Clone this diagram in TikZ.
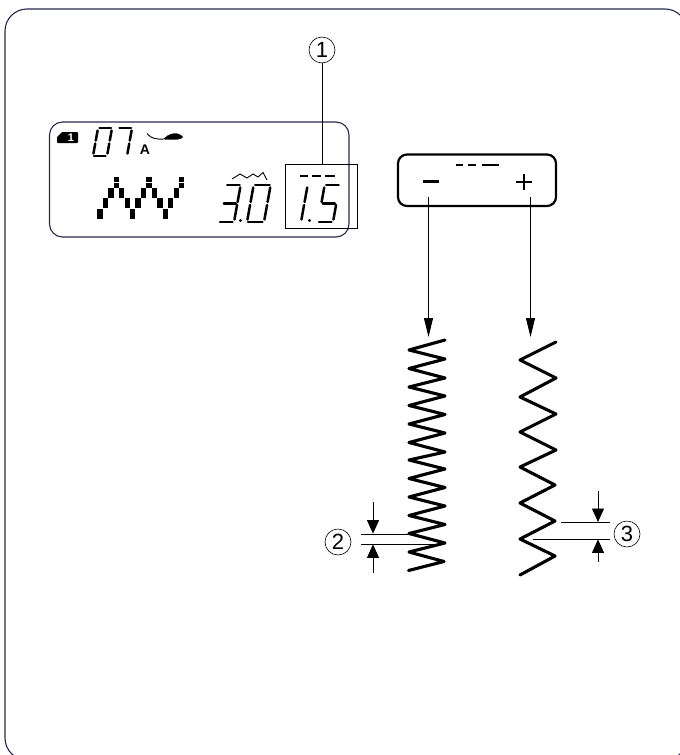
\documentclass[tikz,border=0pt]{standalone}
\usepackage{fontspec}
\setmainfont{Liberation Sans}
\usetikzlibrary{arrows.meta}
\definecolor{navy}{RGB}{40,40,80}
\tikzset{
 frame/.style={draw=navy,line width=1.1pt,rounded corners=22pt},
 lcd/.style={draw=navy,line width=1.1pt,rounded corners=13pt},
 thinline/.style={draw=black,line width=0.8pt},
 seg/.style={draw=black,line width=2.5pt,line cap=round},
 zig/.style={draw=black,line width=3.1pt,line cap=round,line join=round},
 ptr/.style={draw=black,line width=0.9pt,-{Triangle[length=19pt,width=9pt]}},
 dim/.style={draw=black,line width=0.8pt,-{Triangle[length=13.5pt,width=12pt]}},
 callout/.style={circle,draw=black,line width=0.6pt,minimum size=26pt,inner sep=0pt,font=\fontsize{22}{22}\selectfont},
 pixel/.style={fill=black,draw=none},
}
% one seven-segment digit: #1,#2 = lower-left corner; #3 = width; #4 = height; #5 = list of segments
\newcommand{\sevseg}[5]{%
 \begin{scope}[shift={(#1,#2)},xslant=0.18]
  \foreach \s in {#5}{%
   \ifnum\s=1 \draw[seg] (1.5,-#4) -- (#3-1,-#4); \fi
   \ifnum\s=2 \draw[seg] (#3,-#4+2.5) -- (#3,-#4/2-1.5); \fi
   \ifnum\s=3 \draw[seg] (#3,-#4/2+1.5) -- (#3,-2.5); \fi
   \ifnum\s=4 \draw[seg] (1,0) -- (#3-1.5,0); \fi
   \ifnum\s=5 \draw[seg] (0,-#4/2+1.5) -- (0,-2.5); \fi
   \ifnum\s=6 \draw[seg] (0,-#4+2.5) -- (0,-#4/2-1.5); \fi
   \ifnum\s=7 \draw[seg] (1.5,-#4/2) -- (#3-1.5,-#4/2); \fi
  }
 \end{scope}}
\begin{document}
\begin{tikzpicture}[x=1pt,y=-1pt]
\useasboundingbox (0,0) rectangle (680,755);
\fill[white] (0,0) rectangle (680,755);
% outer frame
\draw[frame] (5,9) rectangle (687,760);
% LCD
\draw[lcd] (49.5,122) rectangle (349,237);
% selection
\node[draw=black,line width=0.7pt,minimum width=72pt,minimum height=64.5pt,inner sep=0pt] (sel) at (321.7,196.3) {};
\node[callout] (c1) at (322,50) {1};
\draw[thinline] (c1) -- (sel.north -| c1);
% memory tag
\fill[black,rounded corners=0.8pt] (57,137) -- (62,132) -- (78,132) -- (78,143) -- (57,143) -- cycle;
\node[text=white,font=\bfseries\fontsize{11}{11}\selectfont,inner sep=0pt] (tag) at (71,137.5) {1};
% 07
\sevseg{93}{156}{14}{28}{1,2,3,4,5,6}
\sevseg{113}{156}{14}{28}{1,2,3}
\node[font=\bfseries\fontsize{14}{14}\selectfont,inner sep=0pt] (modeA) at (145,150) {A};
% foot
\draw[black,line width=0.9pt] (147,133.5) .. controls (151,138.5) and (156,139.5) .. (164,139);
\fill[black,rounded corners=1.5pt] (163,139.5) .. controls (168,134) and (174,133) .. (178,133.5) -- (184,137) -- (179,139.5) -- cycle;
% stitch pixels
\foreach \c/\l in {0/0,1/1,2/2,4/2,5/1,6/0,7/1,8/2,10/2,11/1,12/0,13/1,14/2}{
  \pgfmathsetmacro{\xa}{97.3+5.45*\c}
  \pgfmathsetmacro{\ya}{209-10.65*\l}
  \fill[pixel] (\xa,\ya) rectangle +(5.3,10);
}
\foreach \c in {3,9,15}{
  \pgfmathsetmacro{\xa}{97.3+5.45*\c}
  \fill[pixel] (\xa,176.7) rectangle +(5.3,5);
  \fill[pixel] (\xa,182.7) rectangle +(5.3,5);
}
% stitch length symbol
\draw[black,line width=0.9pt] (232,179) -- (240,174) -- (247,178) -- (253,174) -- (258,177) -- (263,172.5) -- (267,180);
% 3.0
\sevseg{219}{222}{15}{37}{1,2,3,4,7}
\fill[black] (240.5,220.5) circle (1.6);
\sevseg{247}{222}{17}{37}{1,2,3,4,5,6}
% 1.5
\draw[black,line width=1.1pt] (300,176) -- (308,176) (312,176) -- (321,176) (325,176) -- (335,176);
\sevseg{301}{222}{0}{37}{2,3}
\fill[black] (309.5,220.5) circle (1.6);
\sevseg{318}{222}{15}{37}{1,3,4,6,7}
% button
\draw[draw=black,line width=2.2pt,rounded corners=9pt] (398,154.5) rectangle (556,206);
\draw[black,line width=1.4pt] (456,165) -- (463,165) (468,165) -- (476,165) (482,165) -- (499,165);
\fill[black] (423,179.5) rectangle (439,183.2);
\draw[black,line width=2pt] (516,182) -- (532,182) (524,174) -- (524,190);
\coordinate (zigA) at (428.5,337);
\coordinate (zigB) at (530.5,337);
\coordinate (mTop) at (428.5,197);
\coordinate (pTop) at (530.5,197);
\draw[ptr] (mTop) -- (zigA);
\draw[ptr] (pTop) -- (zigB);
% zigzags
\draw[zig] (445,340) -- (409,350)
 -- (445,359) -- (409,368.5) -- (445,378) -- (409,387) -- (445,396) -- (409,405.5)
 -- (445,414.5) -- (409,424) -- (445,433) -- (409,442.5) -- (445,452) -- (409,460)
 -- (445,469) -- (409,478.5) -- (445,487.5) -- (409,497) -- (445,506) -- (409,515.5)
 -- (445,524.5) -- (409,533.5) -- (445,543) -- (409,552) -- (444,561.5) -- (408.5,570.5);
\draw[zig] (556,342) -- (520,360) -- (556,378) -- (520,397) -- (556,414) -- (520,432)
 -- (556,450) -- (520,467) -- (555,485) -- (520,503) -- (555,521) -- (520,539) -- (555,556) -- (520,575);
% dimensions 2
\node[callout] (c2) at (338,542) {2};
\coordinate (d2a) at (361,534);
\coordinate (d2b) at (408,534);
\coordinate (d2c) at (361,544);
\coordinate (d2d) at (437,544);
\draw[thinline] (d2a) -- (d2b);
\draw[thinline] (d2c) -- (d2d);
\coordinate (t2) at (373,502);
\coordinate (t2e) at (373,533.6);
\coordinate (b2) at (373,573);
\coordinate (b2e) at (373,544.4);
\draw[dim] (t2) -- (t2e);
\draw[dim] (b2) -- (b2e);
% dimensions 3
\node[callout] (c3) at (627,534) {3};
\coordinate (d3a) at (561,522.5);
\coordinate (d3b) at (610,522.5);
\coordinate (d3c) at (533,539);
\coordinate (d3d) at (610,539);
\draw[thinline] (d3a) -- (d3b);
\draw[thinline] (d3c) -- (d3d);
\coordinate (t3) at (598,491);
\coordinate (t3e) at (598,522);
\coordinate (b3) at (598,562);
\coordinate (b3e) at (598,539.4);
\draw[dim] (t3) -- (t3e);
\draw[dim] (b3) -- (b3e);
\end{tikzpicture}
\end{document}
